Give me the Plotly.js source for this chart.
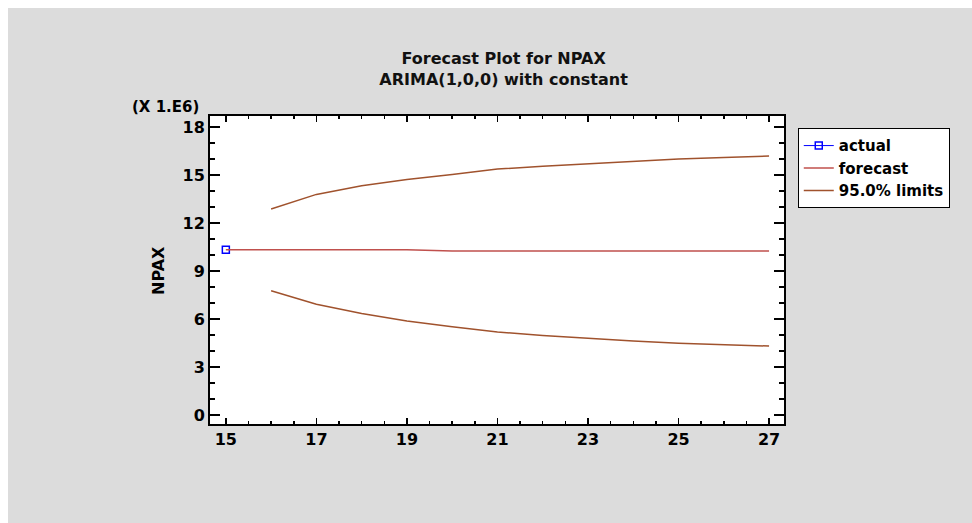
<!DOCTYPE html>
<html>
<head>
<meta charset="utf-8">
<script src="https://cdn.plot.ly/plotly-3.0.1.min.js"></script>
<style>html,body{margin:0;padding:0;background:#ffffff;}#chart{position:absolute;left:8px;top:8px;width:964px;height:515px;}</style>
</head>
<body>
<div id="chart"></div>
<script>
// Data (values in millions, axis shows X 1.E6)
const actualX = [15];
const actualY = [10.33];
const forecastX = [15, 16, 17, 18, 19, 20, 21, 22, 23, 24, 25, 26, 27];
const forecastY = [10.33, 10.33, 10.33, 10.33, 10.33, 10.26, 10.25, 10.25, 10.25, 10.25, 10.25, 10.25, 10.25];
const limitX = [16, 17, 18, 19, 20, 21, 22, 23, 24, 25, 26, 27];
const upperY = [12.88, 13.79, 14.33, 14.72, 15.03, 15.37, 15.55, 15.71, 15.86, 16.0, 16.1, 16.19];
const lowerY = [7.77, 6.92, 6.35, 5.88, 5.52, 5.19, 4.97, 4.78, 4.62, 4.48, 4.39, 4.31];

const F = "DejaVu Sans, Verdana, sans-serif";
const limColor = "#a0522d";
const bold = {family: F, size: 16, color: "#000", weight: "bold"};

const traces = [
  {x: actualX, y: actualY, name: "actual", mode: "lines+markers", type: "scatter",
   line: {color: "#0000ff", width: 1}, marker: {symbol: "square-open", size: 7, color: "#0000ff", line: {width: 1.5}}},
  {x: forecastX, y: forecastY, name: "forecast", mode: "lines", type: "scatter",
   line: {color: "#c0504d", width: 1.5}},
  {x: limitX, y: upperY, name: "95.0% limits", mode: "lines", type: "scatter",
   line: {color: limColor, width: 1.5}, legendgroup: "lim"},
  {x: limitX, y: lowerY, name: "95.0% limits", mode: "lines", type: "scatter",
   line: {color: limColor, width: 1.5}, legendgroup: "lim", showlegend: false}
];

const layout = {
  width: 964, height: 515,
  paper_bgcolor: "#dcdcdc", plot_bgcolor: "#ffffff",
  margin: {l: 202, r: 188, t: 108, b: 99, pad: 0, autoexpand: false},
  font: {family: F, size: 16, color: "#000000"},
  title: {text: "<b>Forecast Plot for NPAX</b><br><b>ARIMA(1,0,0) with constant</b>",
          font: {family: F, size: 16, color: "#111"}, x: 0.5115, xref: "paper", xanchor: "center",
          y: 0.891, yref: "container", yanchor: "middle"},
  xaxis: {range: [14.65, 27.33], tick0: 15, dtick: 2, ticks: "inside", ticklen: 6, tickwidth: 1.5,
          tickcolor: "#000", showline: true, linecolor: "#000", linewidth: 2, mirror: "ticks",
          showgrid: false, zeroline: false, tickfont: bold,
          minor: {dtick: 0.5, tick0: 15, ticks: "inside", ticklen: 3, tickwidth: 1.5, tickcolor: "#000", showgrid: false}},
  yaxis: {range: [-0.56, 18.69], tick0: 0, dtick: 3, ticks: "inside", ticklen: 10, tickwidth: 1.5,
          tickcolor: "#000", showline: true, linecolor: "#000", linewidth: 2, mirror: "ticks",
          showgrid: false, zeroline: false, tickfont: bold,
          minor: {dtick: 1, tick0: 0, ticks: "inside", ticklen: 5, tickwidth: 1.5, tickcolor: "#000", showgrid: false}},
  legend: {x: 1.024, y: 0.96, xanchor: "left", yanchor: "top", bgcolor: "#ffffff",
           bordercolor: "#000", borderwidth: 1, font: {family: F, size: 15, color: "#000", weight: "bold"},
           tracegroupgap: 0, itemwidth: 30},
  annotations: [
    {text: "<b>(X 1.E6)</b>", xref: "paper", yref: "paper", x: -0.015, y: 1.028, xanchor: "right", yanchor: "middle",
     showarrow: false, font: {family: F, size: 15, color: "#000"}},
    {text: "<b>NPAX</b>", xref: "paper", yref: "paper", x: -0.0906, y: 0.5, xanchor: "center", yanchor: "middle",
     textangle: -90, showarrow: false, font: {family: F, size: 16, color: "#000"}}
  ]
};

Plotly.newPlot("chart", traces, layout, {displayModeBar: false, staticPlot: true});
</script>
</body>
</html>
